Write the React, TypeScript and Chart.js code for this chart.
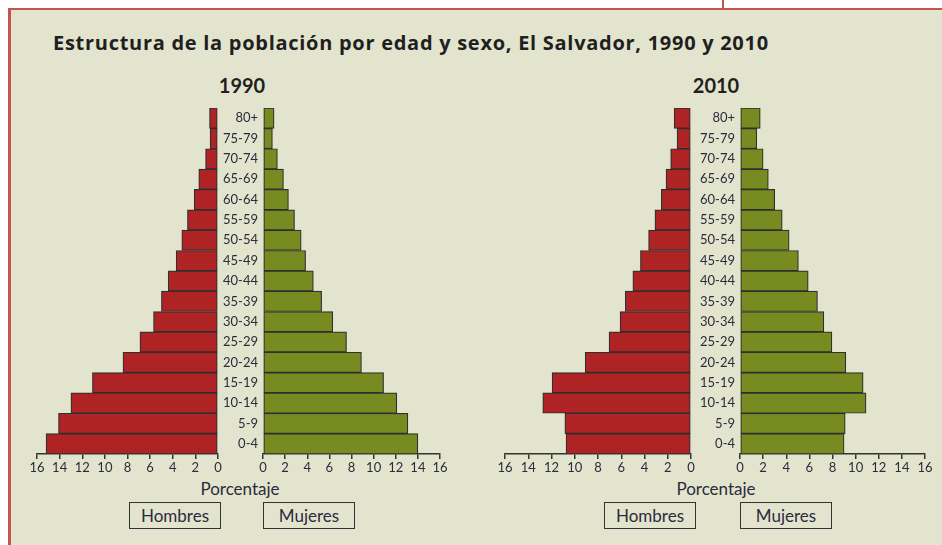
import React, { useEffect, useRef } from 'react';
import { Chart, registerables } from 'chart.js';

Chart.register(...registerables);

// ---- Data (top row first) ----
const AGE_GROUPS = ['80+', '75-79', '70-74', '65-69', '60-64', '55-59', '50-54', '45-49', '40-44', '35-39', '30-34', '25-29', '20-24', '15-19', '10-14', '5-9', '0-4'];
const MALE_1990 = [0.75, 0.7, 1.1, 1.7, 2.1, 2.7, 3.2, 3.7, 4.4, 5.0, 5.7, 6.9, 8.4, 11.1, 13.0, 14.1, 15.2];
const FEMALE_1990 = [1.0, 0.85, 1.3, 1.85, 2.3, 2.85, 3.45, 3.85, 4.55, 5.3, 6.3, 7.55, 8.9, 10.9, 12.1, 13.1, 14.0];
const MALE_2010 = [1.45, 1.2, 1.75, 2.15, 2.55, 3.1, 3.65, 4.35, 5.0, 5.65, 6.1, 7.05, 9.1, 11.95, 12.75, 10.85, 10.75];
const FEMALE_2010 = [1.75, 1.45, 2.0, 2.45, 3.0, 3.65, 4.25, 5.05, 5.9, 6.7, 7.25, 7.95, 9.15, 10.65, 10.9, 9.1, 9.0];
const X_MIN = 0;
const X_MAX = 16;
const X_STEP = 2;

const TITLE = 'Estructura de la población por edad y sexo, El Salvador, 1990 y 2010';
const YEARS = ['1990', '2010'];
const AXIS_TITLE = 'Porcentaje';
const LEGEND_LABELS = ['Hombres', 'Mujeres'];

// ---- Styles ----
const W = 942;
const H = 545;
const FONT = "Lato, 'Noto Sans', sans-serif";
const TITLE_FONT = "'Open Sans', Lato, sans-serif";
const TEXT = '#2b2b3d';
const AXIS = '#333333';
const RED = '#b02325';
const GREEN = '#788b21';
const PANEL = '#e3e4cd';
const FRAME = '#c4554b';
const XH = 30;
const YW = 46;

type Area = { left: number; right: number; top: number; bottom: number };

const PANELS: { values: number[]; color: string; female: boolean; area: Area }[] = [
  { values: MALE_1990, color: RED, female: false, area: { left: 37, right: 218, top: 108, bottom: 454 } },
  { values: FEMALE_1990, color: GREEN, female: true, area: { left: 263, right: 440, top: 108, bottom: 454 } },
  { values: MALE_2010, color: RED, female: false, area: { left: 505, right: 691, top: 108, bottom: 454 } },
  { values: FEMALE_2010, color: GREEN, female: true, area: { left: 740, right: 925, top: 108, bottom: 454 } },
];

function makeConfig(values: number[], color: string, female: boolean, area: Area): any {
  const yScale: any = {
    display: female,
    ticks: { color: TEXT, font: { family: FONT, size: 13 }, padding: 5, autoSkip: false },
    grid: { display: false, drawTicks: false },
    border: { display: false },
  };
  if (female) yScale.afterFit = (s: any) => { s.width = YW; };
  return {
    type: 'bar',
    data: {
      labels: AGE_GROUPS,
      datasets: [{
        data: values,
        backgroundColor: color,
        borderColor: '#2f2f2f',
        borderWidth: 1.2,
        borderSkipped: false,
        categoryPercentage: 1,
        barPercentage: 1,
      }],
    },
    options: {
      indexAxis: 'y',
      responsive: false,
      animation: false,
      devicePixelRatio: 1,
      layout: {
        padding: {
          left: area.left - (female ? YW : 0),
          right: W - area.right,
          top: area.top,
          bottom: H - area.bottom - XH,
        },
      },
      plugins: { legend: { display: false }, tooltip: { enabled: false }, title: { display: false } },
      scales: {
        x: {
          type: 'linear',
          min: X_MIN,
          max: X_MAX,
          reverse: !female,
          afterFit: (s: any) => { s.height = XH; },
          ticks: { stepSize: X_STEP, color: TEXT, font: { family: FONT, size: 13 }, padding: 1, maxRotation: 0, autoSkip: false },
          grid: { display: true, drawOnChartArea: false, drawTicks: true, tickLength: 5, color: AXIS, lineWidth: 1.5 },
          border: { display: true, color: AXIS, width: 1.5 },
        },
        y: yScale,
      },
    },
  };
}

const abs = (o: React.CSSProperties): React.CSSProperties => ({ position: 'absolute', ...o });

function CenterText({ cx, top, size, bold, text }: { cx: number; top: number; size: number; bold?: boolean; text: string }) {
  return (
    <div style={abs({ left: cx - 150, top, width: 300, textAlign: 'center', fontFamily: FONT, fontSize: size, lineHeight: `${size}px`, fontWeight: bold ? 700 : 400, color: bold ? '#1f1f1f' : TEXT, whiteSpace: 'nowrap' })}>
      {text}
    </div>
  );
}

function LegendBox({ left, text }: { left: number; text: string }) {
  return (
    <div style={abs({ left, top: 502, width: 92, height: 27, boxSizing: 'border-box', border: '1.5px solid #333', display: 'flex', alignItems: 'center', justifyContent: 'center', fontFamily: FONT, fontSize: 17, lineHeight: '17px', color: TEXT })}>
      {text}
    </div>
  );
}

export default function App() {
  const c0 = useRef<HTMLCanvasElement>(null);
  const c1 = useRef<HTMLCanvasElement>(null);
  const c2 = useRef<HTMLCanvasElement>(null);
  const c3 = useRef<HTMLCanvasElement>(null);
  const refs = [c0, c1, c2, c3];

  useEffect(() => {
    const charts = PANELS.map((p, i) => new Chart(refs[i].current as HTMLCanvasElement, makeConfig(p.values, p.color, p.female, p.area)));
    return () => charts.forEach((c) => c.destroy());
  }, []);

  return (
    <div style={abs({ left: 0, top: 0, width: W, height: H, background: '#ffffff', overflow: 'hidden' })}>
      <div style={abs({ left: 722, top: 0, width: 2, height: 9, background: FRAME })} />
      <div style={abs({ left: 8, top: 8, width: W - 8, height: H - 8, background: PANEL, boxSizing: 'border-box', borderTop: `2px solid ${FRAME}`, borderLeft: `3px solid ${FRAME}` })} />
      <div style={abs({ left: 53, top: 32, fontFamily: TITLE_FONT, fontSize: 20, lineHeight: '22px', fontWeight: 700, color: '#1f1f1f', whiteSpace: 'nowrap', letterSpacing: '0.72px' })}>{TITLE}</div>
      <CenterText cx={242} top={75} size={20} bold text={YEARS[0]} />
      <CenterText cx={716} top={75} size={20} bold text={YEARS[1]} />
      <CenterText cx={240} top={480} size={17} text={AXIS_TITLE} />
      <CenterText cx={716} top={480} size={17} text={AXIS_TITLE} />
      <LegendBox left={129} text={LEGEND_LABELS[0]} />
      <LegendBox left={263} text={LEGEND_LABELS[1]} />
      <LegendBox left={604} text={LEGEND_LABELS[0]} />
      <LegendBox left={740} text={LEGEND_LABELS[1]} />
      {refs.map((r, i) => (
        <canvas key={i} ref={r} width={W} height={H} style={abs({ left: 0, top: 0, width: W, height: H })} />
      ))}
    </div>
  );
}
